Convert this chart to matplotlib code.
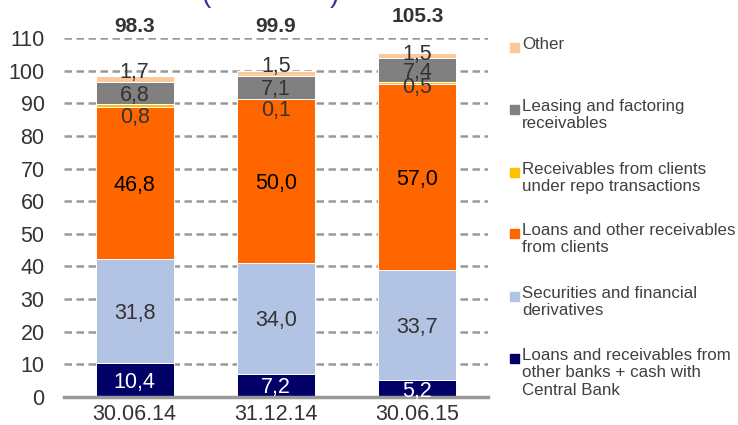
import numpy as np
import matplotlib
matplotlib.use("Agg")
import matplotlib.pyplot as plt
from matplotlib.patches import Rectangle

plt.rcParams['font.family'] = ['Liberation Sans', 'DejaVu Sans']

dates = ["30.06.14", "31.12.14", "30.06.15"]
banks = [10.4, 7.2, 5.2]
securities = [31.8, 34.0, 33.7]
loans = [46.8, 50.0, 57.0]
repo = [0.8, 0.1, 0.5]
leasing = [6.8, 7.1, 7.4]
other = [1.7, 1.5, 1.5]
totals = ["98.3", "99.9", "105.3"]

series = [
    ("Loans and receivables from\nother banks + cash with\nCentral Bank", banks, "#000066", "white"),
    ("Securities and financial\nderivatives", securities, "#B3C3E3", "#333333"),
    ("Loans and other receivables\nfrom clients", loans, "#FF6600", "black"),
    ("Receivables from clients\nunder repo transactions", repo, "#FFC000", "#333333"),
    ("Leasing and factoring\nreceivables", leasing, "#808080", "#333333"),
    ("Other", other, "#FBC99B", "#333333"),
]

# label nudges for the thin segments, in data units
repo_shift = [-2.6, -2.7, -0.3]
other_shift = [2.0, 2.0, 0.4]

fig = plt.figure(figsize=(7.38, 4.25), dpi=100)
ax = fig.add_axes([64/738, 1-397/425, (488-64)/738, (397-38)/425])

x = np.arange(len(dates))
bottom = np.zeros(len(dates))
for name, vals, col, tcol in series:
    vals = np.array(vals)
    ax.bar(x, vals, 0.55, bottom=bottom, color=col, edgecolor="white", linewidth=0.7, zorder=3)
    for i, v in enumerate(vals):
        lbl = f"{v:.1f}".replace(".", ",")
        if name.startswith("Receivables"):
            y = bottom[i] + repo_shift[i]
        elif name == "Other":
            y = bottom[i] + v + other_shift[i]
        else:
            y = bottom[i] + v / 2
        ax.text(x[i], y, lbl, ha="center", va="center_baseline", fontsize=15.5,
                color=tcol, zorder=5)
    bottom = bottom + vals

for i, t in enumerate(totals):
    ax.text(x[i], max(bottom[i] + 9.7, 111.8), t, ha="center", va="baseline",
            fontsize=15, fontweight="bold", color="#333333", clip_on=False)

ax.set_xlim(-0.5, 2.5)
ax.set_ylim(0, 110)
ax.set_yticks(np.arange(0, 111, 10))
ax.set_xticks(x)
ax.set_xticklabels(dates)
ax.tick_params(length=0, labelsize=15.5, colors="#333333")
ax.tick_params(axis="x", pad=5)
ax.tick_params(axis="y", pad=14)
ax.yaxis.grid(True, linestyle=(0, (3, 1.8)), color="#999999", linewidth=1.8, zorder=0)
for s in ["left", "right", "top"]:
    ax.spines[s].set_visible(False)
ax.spines["bottom"].set_color("#999999")
ax.spines["bottom"].set_linewidth(2.5)
ax.spines["bottom"].set_zorder(4)

# legend drawn by hand, top entry first
leg_y = [47, 109, 172, 233, 296, 358]
for (name, vals, col, tcol), yp in zip(series[::-1], leg_y):
    fig.patches.append(Rectangle((510/738, 1-(yp+5)/425), 9/738, 9/425,
                                 transform=fig.transFigure, color=col))
    fig.text(522/738, 1-(yp-10)/425, name, ha="left", va="top", fontsize=12.2,
             color="#404040", linespacing=1.2)

# cut-off title remnant
fig.text(206/738, 1.012, "(", color="#333399", fontsize=20, ha="center", va="center")
fig.text(334/738, 1.012, ")", color="#333399", fontsize=20, ha="center", va="center")

fig.savefig("out.png", dpi=100)
